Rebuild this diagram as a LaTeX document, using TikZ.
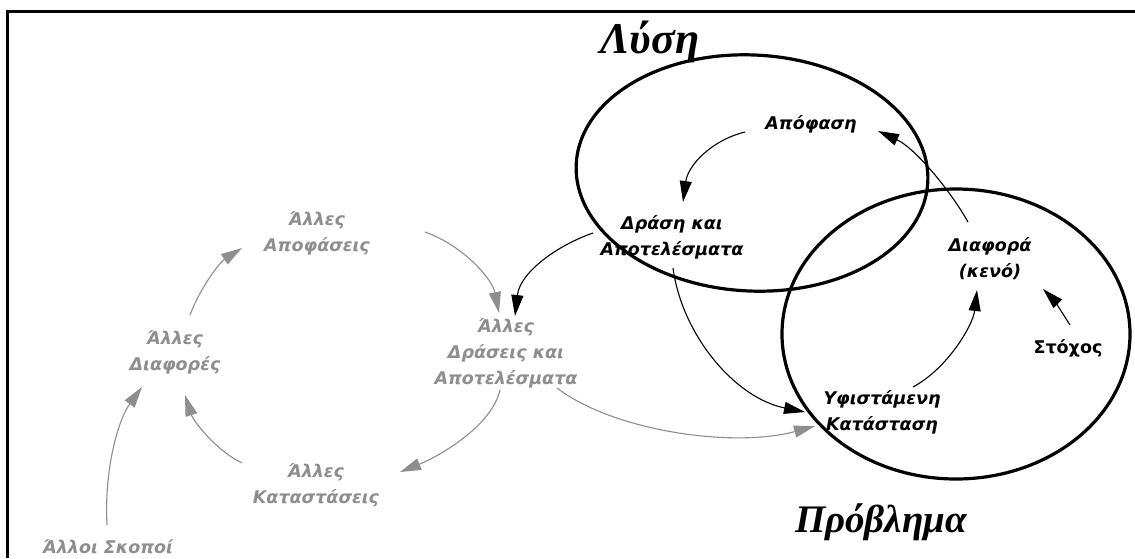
\documentclass[tikz,border=0pt]{standalone}
\usepackage{fontspec}
\usetikzlibrary{arrows.meta,calc}
\newfontfamily\lblfont{DejaVu Sans}
\newfontfamily\ttlfont{Liberation Serif}
\definecolor{fade}{HTML}{8E8E8E}
\tikzset{
  lbl/.style={inner sep=0pt, align=center, font=\lblfont\bfseries\itshape\fontsize{17.5}{26}\selectfont},
  lblup/.style={lbl, font=\lblfont\bfseries\fontsize{17.5}{26}\selectfont},
  faded/.style={lbl, text=fade},
  ttl/.style={inner sep=0pt, anchor=base, font=\ttlfont\bfseries\itshape\fontsize{42}{46}\selectfont},
  link/.style={line width=1.1pt, -{Triangle[length=21pt,width=12pt]}},
  fadelink/.style={link, draw=fade, color=fade},
  ring/.style={line width=3.2pt}
}
\begin{document}
\begin{tikzpicture}[x=1pt,y=-1pt]
  \useasboundingbox (0,0) rectangle (1135,558);
  \fill[white] (0,0) rectangle (1135,558);
  % frame
  \draw[line width=3pt] (7,558) -- (7,11) -- (1135,11);

  % the two regions
  \draw[ring, rotate around={-3:(752,173)}] (752,173) ellipse [x radius=176, y radius=118];
  \draw[ring] (956,334) ellipse [x radius=174, y radius=145];
  \node[ttl, font=\ttlfont\bfseries\itshape\fontsize{44}{48}\selectfont] (lusi) at (650,53) {Λύση};
  \node[ttl, font=\ttlfont\bfseries\itshape\fontsize{39}{44}\selectfont] (provl) at (881,532) {Πρόβλημα};

  % main loop
  \node[lbl] (apofasi) at (811,124) {Απόφαση};
  \node[lbl] (drasi) at (672,237) {Δράση και\\Αποτελέσματα};
  \node[lbl] (diafora) at (990,259) {Διαφορά\\(κενό)};
  \node[lblup] (stoxos) at (1068,348) {Στόχος};
  \node[lbl] (yfist) at (882,412) {Υφιστάμενη\\Κατάσταση};

  % other loop
  \node[faded] (aapof) at (317,233) {Άλλες\\Αποφάσεις};
  \node[faded] (adiaf) at (175,352) {Άλλες\\Διαφορές};
  \node[faded] (adras) at (506,353) {Άλλες\\Δράσεις και\\Αποτελέσματα};
  \node[faded] (akat) at (316,485) {Άλλες\\Καταστάσεις};
  \node[faded] (askop) at (108,547) {Άλλοι Σκοποί};

  % connectors of the main loop
  \draw[link] ($(apofasi.center)+(-66,8)$) .. controls (712,140) and (688,165) .. ($(drasi.center)+(11,-35)$);
  \draw[link] ($(diafora.center)+(-22,-37)$) .. controls (950,190) and (915,148) .. ($(apofasi.center)+(67,7)$);
  \draw[link] ($(yfist.center)+(31,-25)$) .. controls (948,368) and (973,325) .. ($(diafora.center)+(-13,31)$);
  \draw[link] ($(stoxos.center)+(2,-23)$) .. controls (1062,312) and (1052,298) .. ($(diafora.center)+(53,30)$);
  \draw[link] ($(drasi.center)+(1,31)$) .. controls (682,335) and (735,398) .. ($(yfist.center)+(-77,0)$);
  \draw[link] ($(drasi.center)+(-79,-4)$) .. controls (558,245) and (520,272) .. ($(adras.center)+(9,-37)$);

  % connectors of the other loop
  \draw[fadelink] ($(aapof.center)+(108,-1)$) .. controls (462,245) and (492,278) .. ($(adras.center)+(-7,-40)$);
  \draw[fadelink] ($(adras.center)+(51,35)$) .. controls (615,432) and (735,448) .. ($(yfist.center)+(-67,14)$);
  \draw[fadelink] ($(adras.center)+(-6,37)$) .. controls (492,425) and (442,455) .. ($(akat.center)+(84,-13)$);
  \draw[fadelink] ($(akat.center)+(-74,-22)$) .. controls (215,450) and (193,420) .. ($(adiaf.center)+(10,43)$);
  \draw[fadelink] ($(adiaf.center)+(15,-37)$) .. controls (200,288) and (220,262) .. ($(aapof.center)+(-75,15)$);
  \draw[fadelink] ($(askop.center)+(-1,-22)$) .. controls (104,470) and (118,420) .. ($(adiaf.center)+(-33,35)$);
\end{tikzpicture}
\end{document}
